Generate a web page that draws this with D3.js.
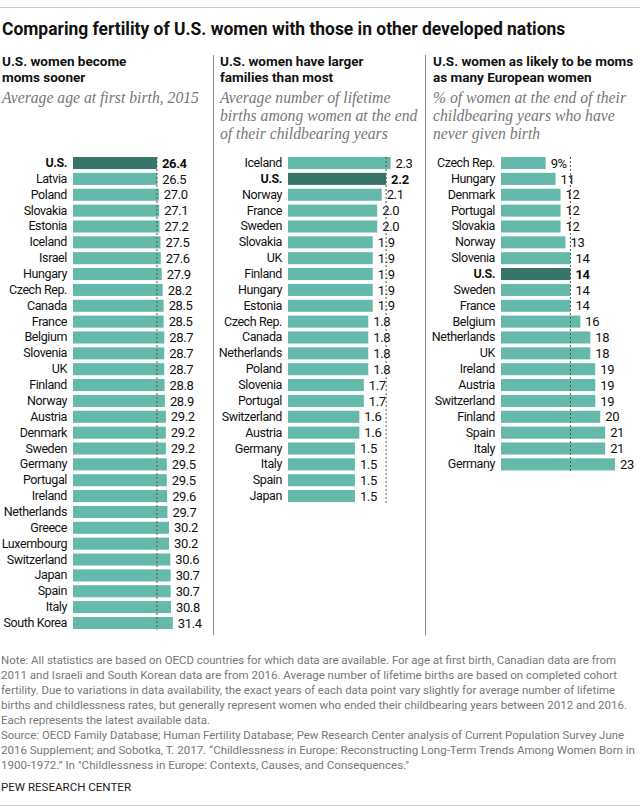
<!DOCTYPE html>
<html>
<head>
<meta charset="utf-8">
<script src="https://cdn.jsdelivr.net/npm/d3@7"></script>
<style>
  body { margin: 0; background: #fff; }
  svg { display: block; }
  text { font-family: "Roboto", sans-serif; }
  .title { font-weight: 700; font-size: 17.45px; fill: #111; }
  .head { font-weight: 700; font-size: 13.5px; fill: #111; }
  .sub { font-family: "Liberation Serif", serif; font-style: italic; font-size: 15.7px; fill: #777; }
  .note { font-size: 11.4px; fill: #777; }
  .val { font-size: 13px; letter-spacing: -0.35px; fill: #111; }
  .tick text { font-family: "Roboto", sans-serif; font-size: 12.5px; letter-spacing: -0.4px; fill: #111; }
</style>
</head>
<body>
<div id="chart"></div>
<script>
// first panel: average age at first birth
const ageCountries = ["U.S.","Latvia","Poland","Slovakia","Estonia","Iceland","Israel","Hungary","Czech Rep.","Canada","France","Belgium","Slovenia","UK","Finland","Norway","Austria","Denmark","Sweden","Germany","Portugal","Ireland","Netherlands","Greece","Luxembourg","Switzerland","Japan","Spain","Italy","South Korea"];
const ageValues = [26.4,26.5,27.0,27.1,27.2,27.5,27.6,27.9,28.2,28.5,28.5,28.7,28.7,28.7,28.8,28.9,29.2,29.2,29.2,29.5,29.5,29.6,29.7,30.2,30.2,30.6,30.7,30.7,30.8,31.4];

// second panel: lifetime births
const birthCountries = ["Iceland","U.S.","Norway","France","Sweden","Slovakia","UK","Finland","Hungary","Estonia","Czech Rep.","Canada","Netherlands","Poland","Slovenia","Portugal","Switzerland","Austria","Germany","Italy","Spain","Japan"];
const birthValues = [2.3,2.2,2.1,2.0,2.0,1.9,1.9,1.9,1.9,1.9,1.8,1.8,1.8,1.8,1.7,1.7,1.6,1.6,1.5,1.5,1.5,1.5];

// third panel: childlessness
const childlessCountries = ["Czech Rep.","Hungary","Denmark","Portugal","Slovakia","Norway","Slovenia","U.S.","Sweden","France","Belgium","Netherlands","UK","Ireland","Austria","Switzerland","Finland","Spain","Italy","Germany"];
const childlessValues = [9,11,12,12,12,13,14,14,14,14,16,18,18,19,19,19,20,21,21,23];

const titleText = "Comparing fertility of U.S. women with those in other developed nations";
const noteLines = [
  "Note: All statistics are based on OECD countries for which data are available. For age at first birth, Canadian data are from",
  "2011 and Israeli and South Korean data are from 2016. Average number of lifetime births are based on completed cohort",
  "fertility. Due to variations in data availability, the exact years of each data point vary slightly for average number of lifetime",
  "births and childlessness rates, but generally represent women who ended their childbearing years between 2012 and 2016.",
  "Each represents the latest available data.",
  "Source: OECD Family Database; Human Fertility Database; Pew Research Center analysis of Current Population Survey June",
  "2016 Supplement; and Sobotka, T. 2017. \u201cChildlessness in Europe: Reconstructing Long-Term Trends Among Women Born in",
  "1900-1972.\u201d In \"Childlessness in Europe: Contexts, Causes, and Consequences.\""
];
// measured widths so the note wraps like the original
const noteWidths = [616,617,615,627,210,624,635,409];

const width = 640, height = 812;
const rowStep = 15.86, barPad = 0.24, chartTop = 157;

const svg = d3.select("#chart").append("svg").attr("width", width).attr("height", height);

// rules and dividers
svg.append("line").attr("x1",0).attr("x2",640).attr("y1",7.5).attr("y2",7.5).attr("stroke","#ccc");
svg.append("line").attr("x1",0).attr("x2",640).attr("y1",805.5).attr("y2",805.5).attr("stroke","#ccc");
[213.5, 425.5].forEach(function(x) {
  svg.append("line").attr("x1",x).attr("x2",x).attr("y1",55).attr("y2",635).attr("stroke","#888");
});

svg.append("text").attr("class","title").attr("x",2).attr("y",35).text(titleText);

function panel(opts) {
  const n = opts.countries.length;
  const y = d3.scaleBand()
    .domain(opts.countries)
    .range([chartTop, chartTop + rowStep * (n - barPad)])
    .paddingInner(barPad);
  const x = d3.scaleLinear().domain([0, opts.maxValue]).range([opts.left, opts.right]);

  const g = svg.append("g");

  opts.head.forEach(function(t, i) {
    g.append("text").attr("class","head").attr("x",opts.textX).attr("y",66 + i*16).text(t);
  });
  opts.sub.forEach(function(t, i) {
    g.append("text").attr("class","sub").attr("x",opts.textX).attr("y",103 + i*18).text(t);
  });

  const axis = d3.axisLeft(y).tickSize(0).tickPadding(6);
  const ag = g.append("g").attr("transform","translate(" + opts.left + ",0)").call(axis);
  ag.select(".domain").remove();
  ag.selectAll(".tick text").style("font-weight", function(d) { return d == "U.S." ? "bold" : null; });

  const rows = opts.countries.map(function(c, i) { return {c: c, v: opts.values[i]}; });

  g.selectAll("rect").data(rows).join("rect")
    .attr("x", x(0))
    .attr("y", function(d) { return y(d.c); })
    .attr("width", function(d) { return x(d.v) - x(0); })
    .attr("height", y.bandwidth())
    .attr("fill", function(d) { return d.c == "U.S." ? "#37756a" : "#64b9aa"; });

  g.selectAll("text.val").data(rows).join("text")
    .attr("class","val")
    .attr("x", function(d) { return x(d.v) + 5; })
    .attr("y", function(d) { return y(d.c) + y.bandwidth()/2; })
    .attr("dy","0.36em")
    .style("font-weight", function(d) { return d.c == "U.S." ? "bold" : null; })
    .text(function(d, i) { return opts.format(d.v, i); });

  // dotted reference line at the U.S. value
  const usVal = opts.values[opts.countries.indexOf("U.S.")];
  g.append("line")
    .attr("x1", x(usVal)).attr("x2", x(usVal))
    .attr("y1", chartTop).attr("y2", chartTop + rowStep * n - 3)
    .attr("stroke","#555").attr("stroke-dasharray","2,2");
}

panel({
  countries: ageCountries, values: ageValues, left: 73, right: 73 + 31.4*3.18, maxValue: 31.4, textX: 2,
  head: ["U.S. women become","moms sooner"],
  sub: ["Average age at first birth, 2015"],
  format: function(v) { return v.toFixed(1); }
});
panel({
  countries: birthCountries, values: birthValues, left: 288, right: 288 + 2.3*44.6, maxValue: 2.3, textX: 220,
  head: ["U.S. women have larger","families than most"],
  sub: ["Average number of lifetime","births among women at the end","of their childbearing years"],
  format: function(v) { return v.toFixed(1); }
});
panel({
  countries: childlessCountries, values: childlessValues, left: 501, right: 501 + 23*4.96, maxValue: 23, textX: 433,
  head: ["U.S. women as likely to be moms","as many European women"],
  sub: ["% of women at the end of their","childbearing years who have","never given birth"],
  format: function(v, i) { return i == 0 ? v + "%" : String(v); }
});

noteLines.forEach(function(t, i) {
  svg.append("text").attr("class","note").attr("x",1).attr("y",663.5 + i*15)
    .attr("textLength", noteWidths[i] - 1).attr("lengthAdjust","spacingAndGlyphs").text(t);
});
svg.append("text").attr("class","note").attr("x",1).attr("y",790.5).style("fill","#222")
  .attr("textLength",130).attr("lengthAdjust","spacingAndGlyphs").text("PEW RESEARCH CENTER");
</script>
</body>
</html>
